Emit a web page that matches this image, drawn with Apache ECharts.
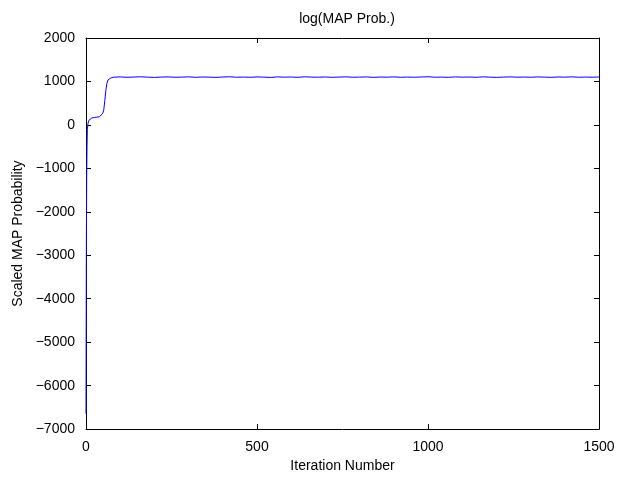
<!DOCTYPE html>
<html>
<head>
<meta charset="utf-8">
<script src="https://cdn.jsdelivr.net/npm/echarts@6/dist/echarts.min.js"></script>
<style>
  html, body { margin: 0; padding: 0; background: #fff; }
  #chart { width: 630px; height: 478px; }
</style>
</head>
<body>
<div id="chart"></div>
<script>
// Burn-in phase: iteration number and scaled log MAP probability
const burnIters = [0, 1, 2, 3, 4, 6, 9, 13, 17, 24, 32, 40, 45, 49, 52, 55, 58, 61, 64, 67, 71, 75];
const burnValues = [-6650, -3000, -1200, -500, -100, 40, 110, 145, 160, 170, 178, 190, 215, 270, 350, 560, 790, 950, 1030, 1055, 1075, 1100];

// Converged phase, sampled every 20 iterations from 80 to 1500
const steadyValues = [
  1098, 1104, 1096, 1102, 1107, 1099, 1093, 1101, 1105, 1097,
  1100, 1106, 1095, 1103, 1099, 1094, 1102, 1108, 1097, 1101,
  1096, 1104, 1100, 1093, 1105, 1099, 1102, 1096, 1107, 1100,
  1098, 1103, 1095, 1101, 1106, 1097, 1100, 1104, 1094, 1102,
  1099, 1105, 1096, 1101, 1097, 1103, 1108, 1098, 1100, 1095,
  1104, 1099, 1102, 1096, 1106, 1100, 1093, 1101, 1105, 1098,
  1102, 1097, 1104, 1100, 1095, 1103, 1099, 1106, 1097, 1101,
  1098, 1102
];
const steadyStart = 80;
const steadyStep = 20;

const xTicks = [0, 500, 1000, 1500];
const yTicks = [-7000, -6000, -5000, -4000, -3000, -2000, -1000, 0, 1000, 2000];

const points = [];
burnIters.forEach((it, i) => points.push([it, burnValues[i]]));
steadyValues.forEach((v, i) => points.push([steadyStart + i * steadyStep, v]));

const FONT = 'Liberation Sans';
const fmt = v => String(v).replace('-', '\u2212');

const baseAxis = {
  type: 'value',
  axisLine: { show: true, onZero: false, lineStyle: { color: '#000', width: 1 } },
  axisTick: { show: true, inside: true, length: 5, lineStyle: { color: '#000', width: 1 } },
  splitLine: { show: false },
  axisLabel: { color: '#000', fontFamily: FONT, fontSize: 14, formatter: fmt }
};

const chart = echarts.init(document.getElementById('chart'), null, { renderer: 'canvas' });
chart.setOption({
  animation: false,
  backgroundColor: '#fff',
  title: {
    text: 'log(MAP Prob.)',
    left: 342, top: 7, textAlign: 'center',
    textStyle: { color: '#000', fontFamily: FONT, fontSize: 14, fontWeight: 'normal' }
  },
  grid: { left: 86, right: 31, top: 38, bottom: 41 },
  xAxis: [
    Object.assign({}, baseAxis, {
      min: xTicks[0], max: xTicks[xTicks.length - 1], interval: 500,
      position: 'bottom',
      axisLabel: Object.assign({}, baseAxis.axisLabel, { margin: 11 }),
      name: 'Iteration Number', nameLocation: 'middle', nameGap: 25,
      nameTextStyle: { color: '#000', fontFamily: FONT, fontSize: 14, verticalAlign: 'top' }
    }),
    Object.assign({}, baseAxis, {
      min: xTicks[0], max: xTicks[xTicks.length - 1], interval: 500,
      position: 'top', axisLabel: { show: false }
    })
  ],
  yAxis: [
    Object.assign({}, baseAxis, {
      min: yTicks[0], max: yTicks[yTicks.length - 1], interval: 1000,
      position: 'left',
      axisLabel: Object.assign({}, baseAxis.axisLabel, { margin: 11 }),
      name: 'Scaled MAP Probability', nameLocation: 'middle', nameGap: 57,
      nameTextStyle: { color: '#000', fontFamily: FONT, fontSize: 14 }
    }),
    Object.assign({}, baseAxis, {
      min: yTicks[0], max: yTicks[yTicks.length - 1], interval: 1000,
      position: 'right', axisLabel: { show: false }
    })
  ],
  series: [{
    type: 'line',
    data: points,
    xAxisIndex: 0, yAxisIndex: 0,
    showSymbol: false, symbol: 'none',
    lineStyle: { color: '#0000ff', width: 1 },
    z: 5
  }]
});
</script>
</body>
</html>
